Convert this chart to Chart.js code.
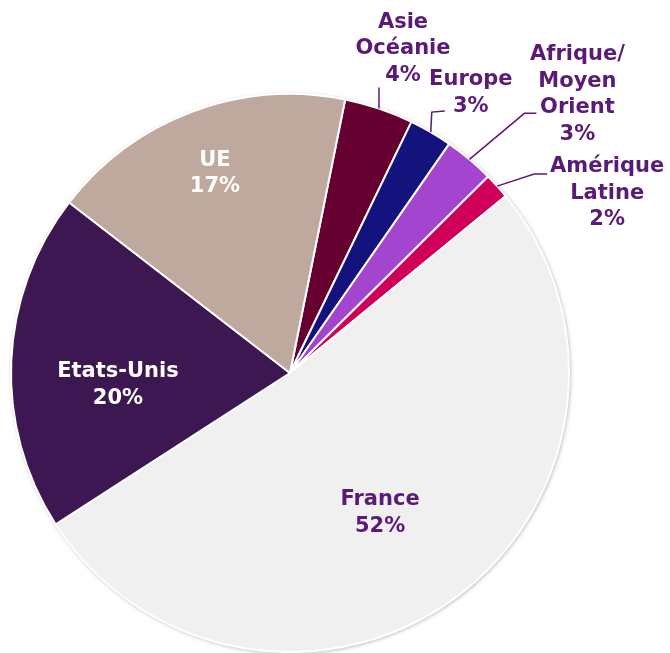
<!DOCTYPE html>
<html>
<head>
<meta charset="utf-8">
<script src="https://cdn.jsdelivr.net/npm/chart.js@4"></script>
<style>
  html, body { margin: 0; padding: 0; background: #ffffff; }
  #wrap { width: 670px; height: 653px; }
</style>
</head>
<body>
<div id="wrap"><canvas id="pie" width="670" height="653"></canvas></div>
<script>
// Répartition par zone géographique (lecture du graphique).
const labels = ["Asie Océanie", "Europe", "Afrique/ Moyen Orient", "Amérique Latine", "France", "Etats-Unis", "UE"];
const values = [4.0, 2.5, 2.9, 1.5, 51.8, 19.6, 17.7];
const shownPercents = ["4%", "3%", "3%", "2%", "52%", "20%", "17%"];
const labelLines = [
  ["Asie", "Océanie"],
  ["Europe"],
  ["Afrique/", "Moyen", "Orient"],
  ["Amérique", "Latine"],
  ["France"],
  ["Etats-Unis"],
  ["UE"]
];
const colors = ["#650030", "#14127c", "#a445d0", "#d0005a", "#f0f0f0", "#3d1752", "#bfa89e"];

// Placement des étiquettes : "in" = dans la part, "out" = hors du disque avec trait.
const labelStyle = [
  { mode: "out", elbow: [0, -21], tail: [0, 0], text: [24, -60] },
  { mode: "out", elbow: [1, -20], tail: [14, -21], text: [40, -39] },
  { mode: "out", elbow: [55, -46], tail: [67, -46], text: [108, -65] },
  { mode: "out", elbow: [37, -12], tail: [50, -12], text: [110, 7] },
  { mode: "in", radius: 0.59, shift: [-7, 7], color: "#5a1a78" },
  { mode: "in", radius: 0.61, shift: [-2, 19], color: "#ffffff" },
  { mode: "in", radius: 0.77, shift: [0, 2], color: "#ffffff" }
];

const FONT = "bold 21px 'DejaVu Sans', Verdana, sans-serif";
const LINE_H = 26.5;
const TEXT_COLOR = "#5a1a78";

// Ombre légère autour du disque.
const shadowPlugin = {
  id: "pieShadow",
  beforeDatasetsDraw(chart) {
    const arc = chart.getDatasetMeta(0).data[0];
    if (!arc) return;
    const ctx = chart.ctx;
    ctx.save();
    ctx.shadowColor = "rgba(0,0,0,0.35)";
    ctx.shadowBlur = 4;
    ctx.shadowOffsetX = 1;
    ctx.shadowOffsetY = 1;
    ctx.fillStyle = "#ffffff";
    ctx.beginPath();
    ctx.arc(arc.x, arc.y, arc.outerRadius, 0, Math.PI * 2);
    ctx.fill();
    ctx.restore();
  }
};

const labelPlugin = {
  id: "pieLabels",
  afterDatasetsDraw(chart) {
    const ctx = chart.ctx;
    const arcs = chart.getDatasetMeta(0).data;
    ctx.save();
    ctx.font = FONT;
    ctx.textAlign = "center";
    ctx.textBaseline = "middle";
    arcs.forEach((arc, i) => {
      const style = labelStyle[i];
      const mid = (arc.startAngle + arc.endAngle) / 2;
      const lines = labelLines[i].concat([shownPercents[i]]);
      let cx, cy;
      if (style.mode === "in") {
        const r = arc.outerRadius * style.radius;
        cx = arc.x + Math.cos(mid) * r + style.shift[0];
        cy = arc.y + Math.sin(mid) * r + style.shift[1];
        ctx.fillStyle = style.color;
      } else {
        const ex = arc.x + Math.cos(mid) * arc.outerRadius;
        const ey = arc.y + Math.sin(mid) * arc.outerRadius;
        ctx.strokeStyle = TEXT_COLOR;
        ctx.lineWidth = 1.5;
        ctx.beginPath();
        ctx.moveTo(ex, ey);
        ctx.lineTo(ex + style.elbow[0], ey + style.elbow[1]);
        if (style.tail[0] || style.tail[1]) {
          ctx.lineTo(ex + style.tail[0], ey + style.tail[1]);
        }
        ctx.stroke();
        cx = ex + style.text[0];
        cy = ey + style.text[1];
        ctx.fillStyle = TEXT_COLOR;
      }
      const top = cy - (lines.length - 1) * LINE_H / 2;
      lines.forEach((t, k) => ctx.fillText(t, cx, top + k * LINE_H));
    });
    ctx.restore();
  }
};

new Chart(document.getElementById("pie").getContext("2d"), {
  type: "pie",
  data: {
    labels,
    datasets: [{
      data: values,
      backgroundColor: colors,
      borderColor: "#ffffff",
      borderWidth: 2
    }]
  },
  options: {
    responsive: false,
    animation: false,
    rotation: 11.4,
    layout: { padding: { left: 10, right: 100, top: 93, bottom: 0 } },
    plugins: {
      legend: { display: false },
      tooltip: { enabled: false }
    }
  },
  plugins: [shadowPlugin, labelPlugin]
});
</script>
</body>
</html>
